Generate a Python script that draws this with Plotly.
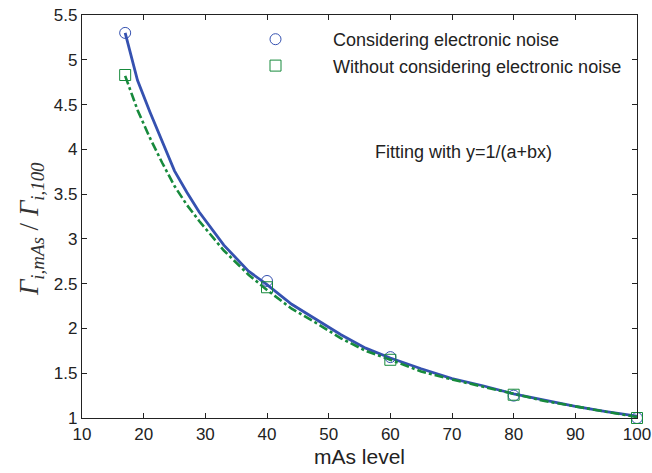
import plotly.graph_objects as go

# measured points
mas_levels = [17, 40, 60, 80, 100]
with_noise = [5.30, 2.53, 1.68, 1.25, 1.00]
without_noise = [4.83, 2.46, 1.65, 1.26, 1.00]

# fitted curves
fit_x = [17, 19, 21, 23, 25, 27, 29, 33, 37, 40, 44, 48, 52, 56, 60, 65, 70, 75, 80, 85, 90, 95, 100]
fit_with = [5.30, 4.77, 4.42, 4.08, 3.76, 3.52, 3.30, 2.93, 2.64, 2.49, 2.27, 2.10, 1.93, 1.78,
            1.67, 1.55, 1.44, 1.36, 1.27, 1.20, 1.13, 1.07, 1.02]
fit_without = [4.82, 4.44, 4.13, 3.85, 3.59, 3.38, 3.20, 2.87, 2.60, 2.43, 2.22, 2.06, 1.89, 1.75,
               1.65, 1.52, 1.43, 1.35, 1.27, 1.19, 1.13, 1.07, 1.01]

x_ticks = [10, 20, 30, 40, 50, 60, 70, 80, 90, 100]
y_ticks = [1, 1.5, 2, 2.5, 3, 3.5, 4, 4.5, 5, 5.5]

BLUE = "#3551b0"
GREEN = "#178a3c"
SANS = "Liberation Sans, Arial"

L, R, T, B = 82, 15, 15, 55
W, H = 652, 473
PW, PH = W - L - R, H - T - B


def px(xp):
    return (xp - L) / PW


def py(yp):
    return (H - B - yp) / PH


fig = go.Figure()
fig.add_trace(go.Scatter(x=fit_x, y=fit_with, mode="lines", line=dict(color=BLUE, width=2.8),
                         showlegend=False, hoverinfo="skip"))
fig.add_trace(go.Scatter(x=fit_x, y=fit_without, mode="lines",
                         line=dict(color=GREEN, width=2.6, dash="dashdot"),
                         showlegend=False, hoverinfo="skip"))
fig.add_trace(go.Scatter(x=mas_levels, y=with_noise, mode="markers", name="Considering electronic noise",
                         marker=dict(symbol="circle-open", size=11, color=BLUE, line=dict(width=1)),
                         cliponaxis=False))
fig.add_trace(go.Scatter(x=mas_levels, y=without_noise, mode="markers",
                         name="Without considering electronic noise",
                         marker=dict(symbol="square-open", size=11, color=GREEN, line=dict(width=1)),
                         cliponaxis=False))

fig.add_annotation(xref="paper", yref="paper", x=px(373), y=py(152),
                   text="Fitting with y=1/(a+bx)", showarrow=False,
                   xanchor="left", yanchor="middle",
                   font=dict(family=SANS, size=18, color="#222"))

# y-axis title as rotated annotation for precise placement
fig.add_annotation(xref="paper", yref="paper", x=px(31), y=py(229),
                   text="<i>Γ</i><sub><i>i,mAs</i></sub> / <i>Γ</i><sub><i>i,100</i></sub>",
                   showarrow=False, textangle=-90, xanchor="center", yanchor="middle",
                   font=dict(family="Liberation Serif, Times New Roman", size=27, color="#333"))

axis_common = dict(showline=True, linecolor="#222", linewidth=1.2, mirror="ticks", ticks="inside",
                   ticklen=5, tickcolor="#222", showgrid=False, zeroline=False, automargin=False,
                   ticklabeloverflow="allow",
                   tickfont=dict(family=SANS, size=17, color="#222"))
fig.update_xaxes(range=[10, 100], tickvals=x_ticks, ticktext=[str(v) for v in x_ticks],
                 title=dict(text="mAs level", font=dict(family=SANS, size=21, color="#222"),
                            standoff=6), **axis_common)
fig.update_yaxes(range=[1, 5.5], tickvals=y_ticks, ticktext=[f"{v:g}" for v in y_ticks],
                 **axis_common)

fig.update_layout(
    width=W, height=H,
    margin=dict(l=L, r=R, t=T, b=B),
    plot_bgcolor="white", paper_bgcolor="white",
    legend=dict(x=px(218), y=py(21), xanchor="left", yanchor="top",
                bgcolor="rgba(0,0,0,0)", itemwidth=105, tracegroupgap=0,
                font=dict(family=SANS, size=18, color="#222")),
)

fig.write_html("out.html")
